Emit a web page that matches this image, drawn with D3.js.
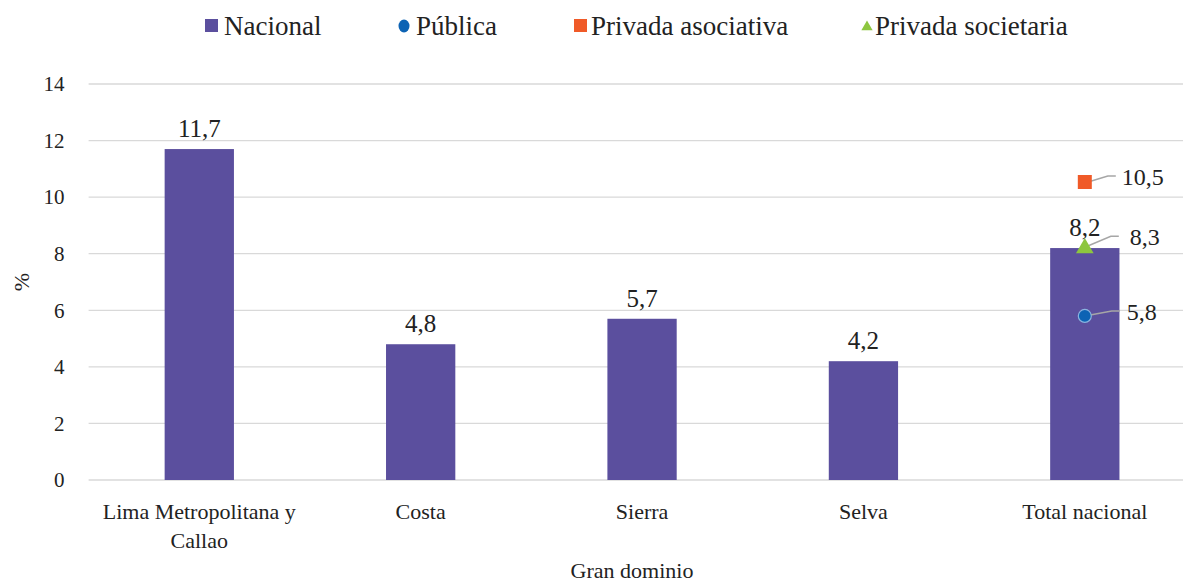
<!DOCTYPE html>
<html><head><meta charset="utf-8">
<script src="https://cdn.jsdelivr.net/npm/d3@7"></script>
<style>body{margin:0;background:#fff;}</style>
</head><body>
<svg id="c" width="1183" height="583"></svg>
<script>
const categories = ["Lima Metropolitana y Callao","Costa","Sierra","Selva","Total nacional"];
const nacional = [11.7, 4.8, 5.7, 4.2, 8.2];
const publica = [{cat:"Total nacional", v:5.8}];
const privadaAsociativa = [{cat:"Total nacional", v:10.5}];
const privadaSocietaria = [{cat:"Total nacional", v:8.3}];
const yTicks = [0,2,4,6,8,10,12,14];
const legendItems = ["Nacional","Pública","Privada asociativa","Privada societaria"];
const colors = {nac:"#5b4f9e", pub:"#0d63b4", aso:"#f05a28", soc:"#8dc63f"};
const FONT = "'Liberation Serif','Times New Roman',Tinos,'DejaVu Serif','Noto Serif',Times,serif";

const svg = d3.select("#c");
const m = {l:88.6, r:1195.5, t:84, b:480, gridR:1183};
const x = d3.scaleBand().domain(categories).range([m.l, m.r]).paddingInner(0.687).paddingOuter(0.3435);
const y = d3.scaleLinear().domain([0,14]).range([m.b, m.t]);
const fmt = v => d3.format(".1f")(v).replace(".", ",");

// grid
svg.append("g").selectAll("line").data(yTicks).join("line")
  .attr("x1", m.l).attr("x2", m.gridR).attr("y1", d=>y(d)).attr("y2", d=>y(d))
  .attr("stroke", "#d9d9d9").attr("stroke-width", 1.3);

// y axis labels
const yAxis = svg.append("g").attr("transform", `translate(${m.l},0)`)
  .call(d3.axisLeft(y).tickValues(yTicks).tickSize(0).tickPadding(24));
yAxis.select(".domain").remove();
yAxis.attr("font-family", FONT).attr("font-size", 21);
yAxis.selectAll("text").attr("fill","#222");

// bars
svg.append("g").selectAll("rect").data(nacional).join("rect")
  .attr("x", (d,i)=>x(categories[i])).attr("width", x.bandwidth())
  .attr("y", d=>y(d)).attr("height", d=>y(0)-y(d)).attr("fill", colors.nac);

const T = svg.append("g").attr("font-family", FONT).attr("fill", "#222");

// bar labels
T.append("g").selectAll("text").data(nacional).join("text")
  .attr("x", (d,i)=>x(categories[i])+x.bandwidth()/2).attr("y", d=>y(d)-12)
  .attr("text-anchor","middle").attr("font-size", 25).text(d=>fmt(d));

// x labels
categories.forEach(c => {
  const cx = x(c)+x.bandwidth()/2;
  const t = T.append("text").attr("x", cx).attr("y", 519).attr("text-anchor","middle").attr("font-size", 22);
  if (c === "Lima Metropolitana y Callao") {
    t.append("tspan").attr("x", cx).text("Lima Metropolitana y");
    t.append("tspan").attr("x", cx).attr("dy", 29).text("Callao");
  } else t.text(c);
});

// axis titles
T.append("text").attr("x", 632).attr("y", 578).attr("text-anchor","middle").attr("font-size", 22).text("Gran dominio");
T.append("text").attr("transform","translate(29,282) rotate(-90)").attr("text-anchor","middle").attr("font-size", 22).text("%");

// markers with leader lines
function leader(cx, cy, lx, ly){
  svg.append("polyline").attr("points", `${cx},${cy} ${lx-8},${ly} ${lx},${ly}`)
    .attr("fill","none").attr("stroke","#a6a6a6").attr("stroke-width",1.5);
}
const mx = c => x(c)+x.bandwidth()/2;
privadaAsociativa.forEach(d=>{
  const cx=mx(d.cat), cy=y(d.v);
  leader(cx, cy, cx+31, cy-7);
  svg.append("rect").attr("x",cx-7).attr("y",cy-8).attr("width",14).attr("height",14).attr("fill",colors.aso);
  T.append("text").attr("x",cx+37).attr("y",cy+2).attr("font-size",24).text(fmt(d.v));
});
privadaSocietaria.forEach(d=>{
  const cx=mx(d.cat), cy=y(d.v);
  leader(cx, cy+2, cx+34, cy-9);
  svg.append("path").attr("d", d3.symbol(d3.symbolTriangle, 135)()).attr("transform",`translate(${cx},${cy+3})`).attr("fill",colors.soc);
  T.append("text").attr("x",cx+45).attr("y",cy).attr("font-size",24).text(fmt(d.v));
});
publica.forEach(d=>{
  const cx=mx(d.cat), cy=y(d.v);
  leader(cx, cy, cx+35, cy-5);
  svg.append("circle").attr("cx",cx).attr("cy",cy).attr("r",6.5).attr("fill",colors.pub).attr("stroke","#8ab4e0").attr("stroke-width",1.2);
  T.append("text").attr("x",cx+42).attr("y",cy+4).attr("font-size",24).text(fmt(d.v));
});

// legend
const markerX = [205, 398, 574, 861];
const textX = [224, 416, 591, 875];
legendItems.forEach((name,i)=>{
  const g = svg.append("g").attr("transform",`translate(${markerX[i]},26)`);
  if(i===0) g.append("rect").attr("x",0).attr("y",-7).attr("width",13).attr("height",13).attr("fill",colors.nac);
  if(i===1) g.append("ellipse").attr("cx",6).attr("cy",0).attr("rx",5.5).attr("ry",6.5).attr("fill",colors.pub);
  if(i===2) g.append("rect").attr("x",0).attr("y",-7).attr("width",13).attr("height",13).attr("fill",colors.aso);
  if(i===3) g.append("path").attr("d", d3.symbol(d3.symbolTriangle, 55)()).attr("transform","translate(6,1)").attr("fill",colors.soc);
  svg.append("text").attr("x", textX[i]).attr("y", 35).attr("font-family", FONT).attr("fill","#222").attr("font-size", 27).text(name);
});
</script>
</body></html>
